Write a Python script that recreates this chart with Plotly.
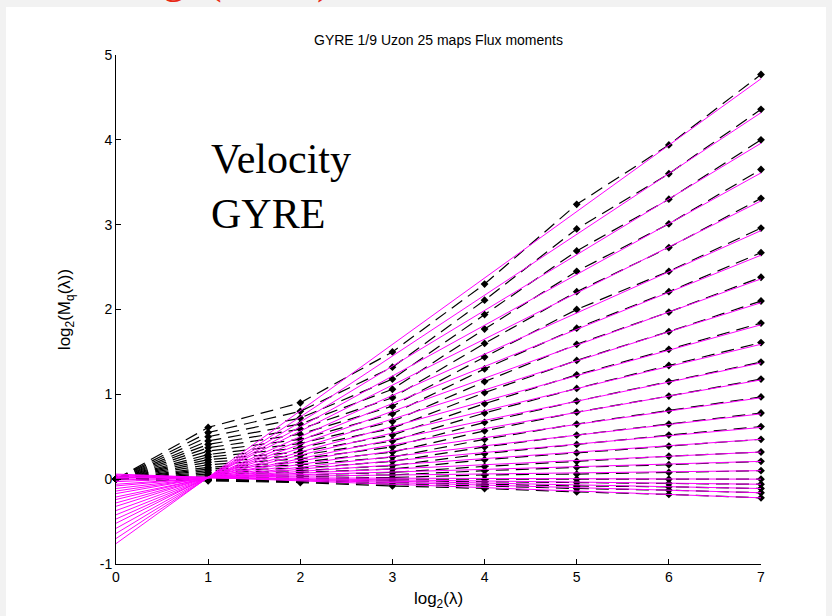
import plotly.graph_objects as go

# log2(lambda) positions
log_lambda = [0, 1, 2, 3, 4, 5, 6, 7]

# moment orders q (top line = largest q)
q_values = [5.0, 4.8, 4.6, 4.4, 4.2, 4.0, 3.8, 3.6, 3.4, 3.2, 3.0, 2.8, 2.6,
            2.4, 2.2, 2.0, 1.8, 1.6, 1.4, 1.2, 1.0, 0.8, 0.6, 0.4, 0.2]

# log2(M_q(lambda)) read at each log2(lambda) column (one entry per q)
logM_x0 = [0.0, 0.0, 0.0, 0.0, 0.0, 0.0, 0.0, 0.0, 0.0, 0.0, 0.0, 0.0, 0.0,
           0.0, 0.0, 0.0, 0.0, 0.0, 0.0, 0.0, 0.0, 0.0, 0.0, 0.0, 0.0]
logM_x1 = [0.61, 0.55, 0.50, 0.45, 0.41, 0.37, 0.33, 0.29, 0.26, 0.23, 0.20, 0.17, 0.14,
           0.12, 0.10, 0.08, 0.06, 0.04, 0.02, 0.01, 0.0, -0.005, -0.01, -0.015, -0.02]
logM_x2 = [0.90, 0.80, 0.72, 0.65, 0.59, 0.53, 0.47, 0.42, 0.37, 0.32, 0.28, 0.24, 0.20,
           0.17, 0.13, 0.10, 0.08, 0.05, 0.03, 0.01, 0.0, -0.01, -0.02, -0.03, -0.04]
logM_x3 = [1.50, 1.32, 1.18, 1.06, 0.96, 0.86, 0.77, 0.68, 0.60, 0.52, 0.45, 0.38, 0.32,
           0.26, 0.21, 0.16, 0.12, 0.08, 0.05, 0.02, 0.0, -0.02, -0.04, -0.06, -0.08]
logM_x4 = [2.30, 2.11, 1.94, 1.77, 1.60, 1.44, 1.30, 1.15, 1.02, 0.89, 0.78, 0.67, 0.57,
           0.47, 0.38, 0.30, 0.23, 0.15, 0.10, 0.05, 0.0, -0.03, -0.06, -0.08, -0.11]
logM_x5 = [3.24, 2.95, 2.69, 2.45, 2.21, 2.00, 1.78, 1.59, 1.40, 1.23, 1.07, 0.92, 0.79,
           0.65, 0.52, 0.41, 0.31, 0.21, 0.14, 0.06, 0.0, -0.04, -0.08, -0.11, -0.15]
logM_x6 = [3.94, 3.60, 3.30, 3.01, 2.73, 2.45, 2.21, 1.97, 1.74, 1.53, 1.34, 1.15, 0.98,
           0.81, 0.65, 0.52, 0.39, 0.27, 0.17, 0.08, 0.0, -0.05, -0.09, -0.13, -0.18]
logM_x7 = [4.77, 4.36, 4.00, 3.65, 3.31, 2.96, 2.67, 2.38, 2.10, 1.84, 1.61, 1.38, 1.18,
           0.97, 0.78, 0.62, 0.47, 0.32, 0.21, 0.10, 0.0, -0.06, -0.11, -0.16, -0.22]

# magenta fitted lines: values read at log2(lambda)=0 and log2(lambda)=7
fit_x_ends = [0, 7]
fit_at_x0 = [-0.76, -0.70, -0.64, -0.58, -0.52, -0.47, -0.42, -0.37, -0.32, -0.28, -0.24, -0.21, -0.17,
             -0.14, -0.11, -0.08, -0.06, -0.03, -0.01, 0.01, 0.02, 0.03, 0.04, 0.05, 0.06]
fit_at_x7 = [4.72, 4.32, 3.96, 3.61, 3.28, 2.93, 2.64, 2.36, 2.08, 1.82, 1.59, 1.37, 1.17,
             0.96, 0.77, 0.61, 0.47, 0.32, 0.21, 0.10, 0.0, -0.06, -0.11, -0.16, -0.22]

columns = [logM_x0, logM_x1, logM_x2, logM_x3, logM_x4, logM_x5, logM_x6, logM_x7]

fig = go.Figure()

for i, q in enumerate(q_values):
    ys = [col[i] for col in columns]
    fig.add_trace(go.Scatter(
        x=log_lambda, y=ys, mode="lines+markers",
        line=dict(color="black", width=1.2, dash="13px,7px"),
        marker=dict(symbol="diamond", size=6, color="black"),
        cliponaxis=False, showlegend=False, name=f"q={q}"))

for i, q in enumerate(q_values):
    fig.add_trace(go.Scatter(
        x=fit_x_ends, y=[fit_at_x0[i], fit_at_x7[i]], mode="lines",
        line=dict(color="#ff00ff", width=1),
        cliponaxis=False, showlegend=False, name=f"fit q={q}"))

W, H = 832, 616
ml, mr, mt, mb = 116, 71, 55, 52
PW, PH = W - ml - mr, H - mt - mb

fig.update_layout(
    width=W, height=H,
    margin=dict(l=ml, r=mr, t=mt, b=mb, pad=0),
    paper_bgcolor="#f2f2f2",
    plot_bgcolor="white",
    font=dict(family="Liberation Sans, Arial, sans-serif", color="black", size=14),
    title=dict(text="GYRE 1/9 Uzon 25 maps Flux moments",
               x=0.5 * (ml + (W - mr)) / W, xanchor="center",
               y=1 - 40 / H, yanchor="middle",
               font=dict(size=14, color="black")),
    shapes=[dict(type="rect", xref="paper", yref="paper",
                 x0=-(ml - 6) / PW, x1=1 + (mr - 6) / PW,
                 y0=-mb / PH - 0.01, y1=1 + (mt - 7) / PH,
                 fillcolor="white", line=dict(width=0), layer="below")],
    annotations=[
        dict(text="Velocity<br>GYRE", xref="x", yref="y", x=1.01, y=4.07,
             xanchor="left", yanchor="top", align="left", showarrow=False,
             font=dict(family="Liberation Serif, Times New Roman, serif", size=42, color="black")),
        dict(text="Scaling&nbsp;&nbsp;(Uzon)", xref="paper", yref="paper",
             x=(52 - ml) / PW, y=(H - mb - 4) / PH,
             xanchor="left", yanchor="bottom", showarrow=False, borderpad=0,
             font=dict(family="Liberation Serif, Times New Roman, serif", size=44,
                       color="rgb(232,40,20)")),
    ],
)

axis_common = dict(showline=True, linecolor="black", linewidth=1, mirror=False,
                   showgrid=False, zeroline=False, ticks="inside", ticklen=5,
                   tickcolor="black", tickwidth=1,
                   tickfont=dict(size=14, color="black",
                                 family="Liberation Sans, Arial, sans-serif"))

fig.update_xaxes(range=[0, 7], tickvals=log_lambda, ticktext=[str(v) for v in log_lambda],
                 title=dict(text="log<sub>2</sub>(λ)", standoff=8, font=dict(size=17)),
                 **axis_common)
fig.update_yaxes(range=[-1, 5], tickvals=[-1, 0, 1, 2, 3, 4, 5],
                 ticktext=["-1", "0", "1", "2", "3", "4", "5"],
                 title=dict(text="log<sub>2</sub>(M<sub>q</sub>(λ))", standoff=24, font=dict(size=17)),
                 **axis_common)

fig.write_html("out.html")
